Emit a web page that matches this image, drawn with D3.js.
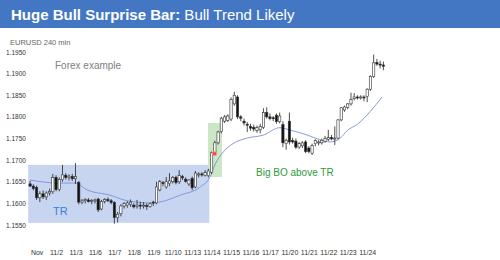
<!DOCTYPE html>
<html>
<head>
<meta charset="utf-8">
<script src="https://cdn.jsdelivr.net/npm/d3@7"></script>
<style>
  body { margin: 0; background: #fff; }
  svg { display: block; font-family: "Liberation Sans", Arial, sans-serif; }
</style>
</head>
<body>
<div id="chart"></div>
<script>
// EURUSD 240 min bars, Oct 31 evening .. Nov 24 (6 bars per day)
const opens = [
  1.1645, 1.1640, 1.1637, 1.1613, 1.1622, 1.1615, 1.1624, 1.1627, 1.1660, 1.1632,
  1.1655, 1.1665, 1.1660, 1.1662, 1.1657, 1.1648, 1.1603, 1.1606, 1.1608, 1.1605,
  1.1606, 1.1610, 1.1587, 1.1605, 1.1609, 1.1606, 1.1602, 1.1567, 1.1576, 1.1594,
  1.1596, 1.1598, 1.1596, 1.1593, 1.1596, 1.1594, 1.1595, 1.1593, 1.1603, 1.1601,
  1.1631, 1.1648, 1.1638, 1.1646, 1.1650, 1.1660, 1.1650, 1.1662, 1.1656, 1.1645,
  1.1658, 1.1638, 1.1666, 1.1668, 1.1665, 1.1664, 1.1672, 1.1717, 1.1740, 1.1766,
  1.1790, 1.1792, 1.1795, 1.1830, 1.1846, 1.1800, 1.1790, 1.1783, 1.1778, 1.1776,
  1.1768, 1.1770, 1.1776, 1.1810, 1.1800, 1.1798, 1.1804, 1.1789, 1.1782, 1.1738,
  1.1790, 1.1745, 1.1744, 1.1730, 1.1733, 1.1742, 1.1728, 1.1716, 1.1738, 1.1740,
  1.1740, 1.1743, 1.1748, 1.1752, 1.1749, 1.1751, 1.1793, 1.1816, 1.1822, 1.1830,
  1.1842, 1.1846, 1.1845, 1.1846, 1.1847, 1.1864, 1.1893, 1.1926, 1.1922, 1.1920
];
const highs = [
  1.1652, 1.1644, 1.1641, 1.1628, 1.1630, 1.1628, 1.1634, 1.1668, 1.1665, 1.1660,
  1.1689, 1.1670, 1.1667, 1.1668, 1.1693, 1.1652, 1.1610, 1.1612, 1.1612, 1.1610,
  1.1611, 1.1613, 1.1608, 1.1612, 1.1614, 1.1610, 1.1605, 1.1580, 1.1598, 1.1603,
  1.1605, 1.1609, 1.1600, 1.1608, 1.1604, 1.1603, 1.1600, 1.1602, 1.1606, 1.1650,
  1.1654, 1.1652, 1.1661, 1.1670, 1.1663, 1.1664, 1.1677, 1.1666, 1.1660, 1.1656,
  1.1662, 1.1675, 1.1672, 1.1672, 1.1677, 1.1680, 1.1720, 1.1745, 1.1768, 1.1800,
  1.1804, 1.1806, 1.1845, 1.1858, 1.1850, 1.1804, 1.1796, 1.1788, 1.1784, 1.1782,
  1.1780, 1.1784, 1.1820, 1.1822, 1.1808, 1.1802, 1.1808, 1.1810, 1.1790, 1.1750,
  1.1810, 1.1752, 1.1750, 1.1742, 1.1744, 1.1746, 1.1732, 1.1738, 1.1748, 1.1746,
  1.1750, 1.1756, 1.1770, 1.1758, 1.1778, 1.1795, 1.1823, 1.1826, 1.1832, 1.1856,
  1.1855, 1.1850, 1.1850, 1.1850, 1.1866, 1.1896, 1.1944, 1.1934, 1.1930, 1.1928
];
const lows = [
  1.1638, 1.1630, 1.1608, 1.1603, 1.1610, 1.1608, 1.1618, 1.1622, 1.1628, 1.1628,
  1.1650, 1.1655, 1.1653, 1.1652, 1.1645, 1.1598, 1.1598, 1.1600, 1.1602, 1.1598,
  1.1600, 1.1580, 1.1584, 1.1600, 1.1603, 1.1598, 1.1553, 1.1556, 1.1570, 1.1588,
  1.1590, 1.1592, 1.1588, 1.1588, 1.1586, 1.1588, 1.1585, 1.1590, 1.1594, 1.1598,
  1.1628, 1.1640, 1.1634, 1.1640, 1.1646, 1.1644, 1.1645, 1.1654, 1.1648, 1.1640,
  1.1630, 1.1635, 1.1660, 1.1662, 1.1662, 1.1660, 1.1668, 1.1712, 1.1736, 1.1762,
  1.1786, 1.1788, 1.1790, 1.1826, 1.1795, 1.1790, 1.1780, 1.1765, 1.1768, 1.1766,
  1.1763, 1.1762, 1.1772, 1.1796, 1.1792, 1.1790, 1.1784, 1.1785, 1.1730, 1.1724,
  1.1736, 1.1738, 1.1726, 1.1726, 1.1728, 1.1716, 1.1716, 1.1712, 1.1732, 1.1734,
  1.1736, 1.1740, 1.1744, 1.1746, 1.1735, 1.1748, 1.1790, 1.1812, 1.1818, 1.1826,
  1.1838, 1.1840, 1.1840, 1.1836, 1.1834, 1.1860, 1.1890, 1.1918, 1.1912, 1.1908
];
const closes = [
  1.1640, 1.1634, 1.1613, 1.1622, 1.1615, 1.1624, 1.1628, 1.1660, 1.1632, 1.1655,
  1.1666, 1.1660, 1.1663, 1.1657, 1.1662, 1.1603, 1.1606, 1.1609, 1.1604, 1.1607,
  1.1608, 1.1585, 1.1604, 1.1609, 1.1606, 1.1602, 1.1567, 1.1575, 1.1594, 1.1600,
  1.1601, 1.1603, 1.1592, 1.1596, 1.1594, 1.1596, 1.1593, 1.1599, 1.1601, 1.1638,
  1.1650, 1.1646, 1.1650, 1.1652, 1.1660, 1.1648, 1.1664, 1.1659, 1.1651, 1.1654,
  1.1636, 1.1670, 1.1668, 1.1667, 1.1671, 1.1675, 1.1717, 1.1740, 1.1765, 1.1797,
  1.1800, 1.1802, 1.1840, 1.1850, 1.1800, 1.1797, 1.1786, 1.1781, 1.1774, 1.1772,
  1.1775, 1.1778, 1.1810, 1.1800, 1.1796, 1.1796, 1.1789, 1.1802, 1.1740, 1.1746,
  1.1742, 1.1742, 1.1730, 1.1738, 1.1740, 1.1720, 1.1720, 1.1734, 1.1745, 1.1742,
  1.1746, 1.1750, 1.1752, 1.1749, 1.1751, 1.1793, 1.1821, 1.1823, 1.1830, 1.1840,
  1.1846, 1.1845, 1.1846, 1.1845, 1.1864, 1.1893, 1.1925, 1.1922, 1.1920, 1.1917
];

// moving average, sampled at (bar index, price) points
const maBars   = [0, 8.6, 14, 17.6, 24.7, 30, 37, 40, 46.3, 52.5, 55.5, 57, 59.6, 62.6, 67, 72, 77, 80, 85.5, 89.5, 92.6, 95.7, 97.8, 101.2, 104.9, 108.6];
const maValues = [1.1654, 1.1647, 1.1647, 1.1631, 1.1619, 1.1606, 1.1601, 1.1603, 1.1619, 1.1638, 1.1661, 1.1689, 1.1719, 1.1738, 1.1751, 1.1758, 1.1775, 1.1770, 1.1758, 1.1747, 1.1742, 1.1751, 1.1768, 1.1784, 1.1812, 1.1846];

const dayLabels = ["Nov", "11/2", "11/3", "11/6", "11/7", "11/8", "11/9", "11/10", "11/13",
                   "11/14", "11/15", "11/16", "11/17", "11/20", "11/21", "11/22", "11/23", "11/24"];
const firstLabelBar = 2;
const barsPerDay = 6;
const yTicks = [1.155, 1.160, 1.165, 1.170, 1.175, 1.180, 1.185, 1.190, 1.195];

// trading range box and breakout box, in bar index / price units
const trBox = { from: -0.6, to: 55.3, top: 1.1689, bottom: 1.1555 };
const boBox = { from: 54.9, to: 59.2, top: 1.1786, bottom: 1.1661 };
const signalDot = { bar: 56.9, price: 1.1715 };

const width = 500, height = 260;
const n = opens.length;

const svg = d3.select("#chart").append("svg")
  .attr("width", width)
  .attr("height", height);

svg.append("rect").attr("width", width).attr("height", height).attr("fill", "#fff");

// title bar
svg.append("rect")
  .attr("x", 0).attr("y", 0)
  .attr("width", width).attr("height", 28)
  .attr("fill", "#4377c4");

const title = svg.append("text")
  .attr("x", 11).attr("y", 20)
  .attr("fill", "#fff")
  .style("font-size", "15px");
title.append("tspan").attr("font-weight", "bold").text("Huge Bull Surprise Bar:");
title.append("tspan").text(" Bull Trend Likely");

// scales
const x = d3.scaleBand()
  .domain(d3.range(n))
  .range([28.5, 385]);
const xc = d3.scaleLinear()
  .domain([0, n - 1])
  .range([x(0) + x.bandwidth() / 2, x(n - 1) + x.bandwidth() / 2]);
const y = d3.scaleLinear()
  .domain([1.155, 1.195])
  .range([225, 52]);

// boxes
svg.append("rect")
  .attr("x", xc(trBox.from))
  .attr("y", y(trBox.top))
  .attr("width", xc(trBox.to) - xc(trBox.from))
  .attr("height", y(trBox.bottom) - y(trBox.top))
  .attr("fill", "#c7d5f1");

svg.append("rect")
  .attr("x", xc(boBox.from))
  .attr("y", y(boBox.top))
  .attr("width", xc(boBox.to) - xc(boBox.from))
  .attr("height", y(boBox.bottom) - y(boBox.top))
  .attr("fill", "#cbe7c5");

// y axis labels
const yAxis = d3.axisLeft(y).tickValues(yTicks).tickSize(0).tickFormat(d3.format(".4f"));
const gy = svg.append("g").attr("transform", "translate(26,0)").call(yAxis);
gy.select(".domain").remove();
gy.selectAll("text")
  .attr("x", -20)
  .attr("text-anchor", "start")
  .style("font-size", "6.5px")
  .style("font-family", "Liberation Sans, Arial, sans-serif")
  .attr("fill", "#333");

// x axis labels
const labelBars = dayLabels.map((d, i) => firstLabelBar + i * barsPerDay);
const xAxis = d3.axisBottom(xc).tickValues(labelBars).tickSize(0)
  .tickFormat((d, i) => dayLabels[i]);
const gx = svg.append("g").attr("transform", "translate(0,247)").call(xAxis);
gx.select(".domain").remove();
gx.selectAll("text")
  .style("font-size", "7px")
  .style("font-family", "Liberation Sans, Arial, sans-serif")
  .attr("fill", "#333");

// moving average
const maPoints = maBars.map((b, i) => [b, maValues[i]]);
svg.append("path")
  .datum(maPoints)
  .attr("fill", "none")
  .attr("stroke", "#7f8fdc")
  .attr("stroke-width", 0.9)
  .attr("d", d3.line().x(d => xc(d[0])).y(d => y(d[1])).curve(d3.curveMonotoneX));

// candles
const bars = d3.range(n).map(i => ({ i, o: opens[i], h: highs[i], l: lows[i], c: closes[i] }));
const bw = 2.3;
const candle = svg.append("g").selectAll("g").data(bars).enter().append("g");

candle.append("line")
  .attr("x1", d => xc(d.i)).attr("x2", d => xc(d.i))
  .attr("y1", d => y(d.h)).attr("y2", d => y(d.l))
  .attr("stroke", "#222")
  .attr("stroke-width", 0.8);

candle.append("rect")
  .attr("x", d => xc(d.i) - bw / 2)
  .attr("y", d => y(Math.max(d.o, d.c)))
  .attr("width", bw)
  .attr("height", d => Math.max(1, Math.abs(y(d.o) - y(d.c))))
  .attr("fill", d => d.c >= d.o ? "#fff" : "#111")
  .attr("stroke", "#333")
  .attr("stroke-width", 0.6);

// signal dot on the surprise bar
svg.append("circle")
  .attr("cx", xc(signalDot.bar))
  .attr("cy", y(signalDot.price))
  .attr("r", 2.2)
  .attr("fill", "#f04a4a")
  .attr("stroke", "#f7a0a0")
  .attr("stroke-width", 0.8);

// annotations
svg.append("text")
  .attr("x", 10).attr("y", 45)
  .attr("fill", "#666")
  .style("font-size", "7.5px")
  .text("EURUSD 240 min");

svg.append("text")
  .attr("x", 55).attr("y", 69)
  .attr("fill", "#808080")
  .style("font-size", "10px")
  .text("Forex example");

svg.append("text")
  .attr("x", 53).attr("y", 215)
  .attr("fill", "#3a7fd5")
  .style("font-size", "11px")
  .text("TR");

svg.append("text")
  .attr("x", 256).attr("y", 176)
  .attr("fill", "#2f9a3a")
  .style("font-size", "10px")
  .text("Big BO above TR");
</script>
</body>
</html>
